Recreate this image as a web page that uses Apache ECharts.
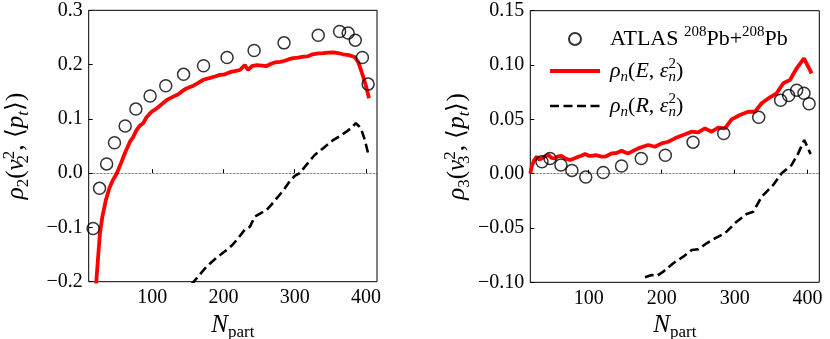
<!DOCTYPE html>
<html>
<head>
<meta charset="utf-8">
<script src="https://cdn.jsdelivr.net/npm/echarts@6/dist/echarts.min.js"></script>
<style>html,body{margin:0;padding:0;background:#fff;}#c{width:830px;height:339px;}</style>
</head>
<body>
<div id="c"></div>
<script>
// ---- data ----
const npartAtlas = [17, 26, 36, 47, 62, 77, 97, 119, 144, 172, 205, 243, 285, 333, 363, 375, 385, 395, 403];
const atlasRho2 = [-0.102, -0.028, 0.017, 0.056, 0.087, 0.118, 0.142, 0.161, 0.182, 0.198, 0.213, 0.226, 0.240, 0.254, 0.261, 0.258, 0.245, 0.213, 0.164];
const npartAtlas3 = [36, 47, 62, 77, 96, 120, 145, 172, 205, 243, 285, 333, 363, 374, 385, 395, 402];
const atlasRho3 = [0.011, 0.014, 0.008, 0.003, -0.003, 0.001, 0.007, 0.014, 0.017, 0.029, 0.037, 0.052, 0.0675, 0.072, 0.0767, 0.074, 0.0644];

const modelE_rho2 = [[19.5,-0.24],[22,-0.19],[24,-0.155],[26.6,-0.111],[30,-0.08],[35,-0.049],[40,-0.027],[45,-0.012],[50,-0.001],[56,0.018],[62,0.038],[68.7,0.058],[73,0.066],[78,0.0795],[83,0.088],[87.4,0.092],[92,0.103],[99,0.113],[107,0.12],[115,0.129],[122,0.136],[129.5,0.141],[136,0.145],[142,0.151],[148,0.156],[156,0.16],[164,0.166],[171.5,0.172],[180,0.175],[188,0.178],[195,0.181],[202,0.182],[209,0.186],[216,0.188],[223,0.19],[230,0.199],[234.6,0.19],[240,0.197],[247,0.199],[254,0.198],[260,0.197],[266,0.201],[272,0.204],[280,0.205],[286,0.207],[292,0.21],[298,0.212],[305,0.213],[312,0.2145],[318,0.215],[325,0.219],[333,0.2205],[340,0.221],[347,0.222],[354,0.2226],[361,0.221],[368,0.219],[376,0.2175],[384,0.214],[389,0.205],[393,0.19],[396,0.178],[399,0.165],[401.5,0.153],[404.3,0.138]];
const modelR_rho2 = [[155,-0.205],[176.3,-0.172],[190,-0.156],[204.4,-0.1416],[212,-0.133],[220.6,-0.12],[230,-0.104],[237,-0.099],[244,-0.08],[252,-0.074],[260.4,-0.068],[268,-0.057],[276.7,-0.0434],[285,-0.03],[292,-0.017],[300,-0.005],[307,0.0],[315,0.013],[328,0.0334],[340,0.046],[354,0.061],[363,0.068],[372.6,0.0764],[380,0.084],[385.7,0.092],[390,0.087],[393.7,0.0795],[398.4,0.061],[403,0.0365]];
const modelE_rho3 = [[20,0.0],[21.9,0.0064],[25,0.012],[28.8,0.0156],[32,0.013],[35.6,0.014],[40,0.016],[44.7,0.0172],[49,0.0145],[53.8,0.014],[58,0.016],[63,0.0163],[68,0.014],[74.4,0.0126],[80,0.014],[85.8,0.0156],[90,0.0165],[95,0.018],[100,0.0165],[104.1,0.0163],[110,0.017],[117.8,0.0156],[124,0.016],[131.5,0.0187],[138,0.019],[145.2,0.0211],[150,0.0195],[154.2,0.0187],[161,0.021],[167.9,0.0233],[175,0.025],[181.6,0.0264],[190.8,0.0248],[200,0.0279],[209,0.0294],[218.2,0.0325],[225,0.0345],[233,0.0365],[241,0.0386],[250,0.038],[259.3,0.0417],[268.5,0.0386],[277.5,0.0423],[286.7,0.0417],[295.9,0.05],[307.3,0.054],[318.6,0.057],[327.8,0.057],[337,0.0648],[348.4,0.0703],[357.5,0.074],[366.6,0.0832],[375.8,0.0862],[385,0.097],[395,0.1062],[405.5,0.0924]];
const modelR_rho3 = [[177.1,-0.0954],[186.3,-0.0933],[193.2,-0.0942],[202.2,-0.0902],[215.9,-0.0825],[229.6,-0.0764],[241.1,-0.0703],[250.1,-0.0696],[261.6,-0.0641],[273,-0.0595],[286.7,-0.0549],[302.7,-0.0442],[316.4,-0.0371],[325.5,-0.035],[337,-0.0212],[352.9,-0.0104],[364.4,0.0003],[378.1,0.008],[387.1,0.0187],[395.4,0.031],[404.1,0.018]];

const xTicks = [100, 200, 300, 400];
const leftYTicks = {min: -0.2, max: 0.3, interval: 0.1, digits: 1};
const rightYTicks = {min: -0.1, max: 0.15, interval: 0.05, digits: 2};

// ---- styles ----
const SERIF = 'Liberation Serif';
function makeRich(big, small) {
  const base = {fontFamily: SERIF, color: '#000'};
  return {
    i: Object.assign({fontStyle: 'italic', fontSize: big, lineHeight: big + 6}, base),
    r: Object.assign({fontSize: big, lineHeight: big + 6}, base),
    sub: Object.assign({fontStyle: 'italic', fontSize: small, lineHeight: small, verticalAlign: 'bottom'}, base),
    subr: Object.assign({fontSize: small, lineHeight: small, verticalAlign: 'bottom'}, base),
    subz: Object.assign({fontStyle: 'italic', fontSize: small, lineHeight: small, verticalAlign: 'bottom', width: 0.01}, base),
    subzr: Object.assign({fontSize: small, lineHeight: small, verticalAlign: 'bottom', width: 0.01}, base),
    sup: Object.assign({fontSize: small, lineHeight: small, verticalAlign: 'top'}, base),
    sp: Object.assign({fontSize: big, width: 5}, base)
  };
}
const richAxis = makeRich(25, 17);
const richLegend = makeRich(22, 15);

function fmt(d) {
  return v => v.toFixed(d).replace('-', '\u2212');
}
function xAxisCfg(gi, min, max) {
  return {
    type: 'value', gridIndex: gi, min: min, max: max,
    name: '{i|N}{subr|part}', nameLocation: 'middle', nameGap: 26,
    nameTextStyle: {rich: richAxis},
    axisLine: {show: false},
    splitLine: {show: false},
    axisTick: {inside: true, length: 4, customValues: xTicks, lineStyle: {color: '#000', width: 1}},
    axisLabel: {customValues: xTicks, color: '#000', fontFamily: SERIF, fontSize: 20, margin: 6}
  };
}
function yAxisCfg(gi, t, name) {
  return {
    type: 'value', gridIndex: gi, min: t.min, max: t.max, interval: t.interval,
    name: name, nameLocation: 'middle', nameGap: 57,
    nameTextStyle: {rich: richAxis},
    axisLine: {show: false},
    splitLine: {show: false},
    axisTick: {inside: true, length: 4, lineStyle: {color: '#000', width: 1}},
    axisLabel: {formatter: fmt(t.digits), color: '#000', fontFamily: SERIF, fontSize: 20, margin: 6}
  };
}
const zeroLine = {
  silent: true, symbol: 'none', label: {show: false},
  lineStyle: {type: 'dotted', color: '#000', width: 0.7},
  data: [{yAxis: 0}]
};
const circleStyle = {color: 'none', borderColor: '#000', borderWidth: 1.5};
const redStyle = {color: '#ff0000', width: 3.8};
const dashStyle = {color: '#000', width: 2.6, type: [9, 4.5]};
const hiddenSymbol = {color: 'rgba(0,0,0,0)', borderColor: 'rgba(0,0,0,0)', borderWidth: 0, opacity: 0};

const legendNames = {
  atlas: '{sp|}{r|ATLAS }{sup|208}{r|Pb+}{sup|208}{r|Pb}',
  modelE: '{sp|}{i|ρ}{sub|n}{r|(}{i|E}{r|, }{i|ε}{subz|n}{sup|2}{r|)}',
  modelR: '{sp|}{i|ρ}{sub|n}{r|(}{i|R}{r|, }{i|ε}{subz|n}{sup|2}{r|)}'
};

const gridBase = {show: true, borderColor: '#000', borderWidth: 1, backgroundColor: 'transparent', containLabel: false, outerBoundsMode: 'none'};

const chart = echarts.init(document.getElementById('c'), null, {renderer: 'canvas'});
chart.setOption({
  animation: false,
  backgroundColor: '#fff',
  grid: [
    Object.assign({left: 88.7, top: 10.3, width: 288.3, height: 271.4}, gridBase),
    Object.assign({left: 530.3, top: 10.7, width: 289, height: 271.6}, gridBase)
  ],
  xAxis: [xAxisCfg(0, 10.8, 415.5), xAxisCfg(1, 20, 416)],
  yAxis: [
    yAxisCfg(0, leftYTicks, '{i|ρ}{subr|2}{r|(}{i|v}{subzr|2}{sup|2}{r|, ⟨}{i|p}{sub|t}{r|⟩)}'),
    yAxisCfg(1, rightYTicks, '{i|ρ}{subr|3}{r|(}{i|v}{subzr|3}{sup|2}{r|, ⟨}{i|p}{sub|t}{r|⟩)}')
  ],
  legend: {
    left: 543, top: 20, orient: 'vertical', itemWidth: 50, itemHeight: 12, itemGap: 7,
    data: [
      {name: 'atlas'},
      {name: 'modelE', itemStyle: hiddenSymbol, lineStyle: {width: 4, color: '#ff0000'}},
      {name: 'modelR', itemStyle: hiddenSymbol, lineStyle: {width: 2.6, color: '#000', type: [9, 4.5]}}
    ],
    formatter: n => legendNames[n],
    textStyle: {rich: richLegend},
    selectedMode: false
  },
  series: [
    {name: 'modelE', type: 'line', xAxisIndex: 0, yAxisIndex: 0, data: modelE_rho2, showSymbol: false, symbol: 'none', lineStyle: redStyle, itemStyle: {color: '#ff0000'}, markLine: zeroLine, z: 2},
    {name: 'modelR', type: 'line', xAxisIndex: 0, yAxisIndex: 0, data: modelR_rho2, showSymbol: false, symbol: 'none', lineStyle: dashStyle, itemStyle: {color: '#000'}, z: 2},
    {name: 'atlas', type: 'scatter', xAxisIndex: 0, yAxisIndex: 0, data: npartAtlas.map((x, i) => [x, atlasRho2[i]]), symbol: 'circle', symbolSize: 12, itemStyle: circleStyle, z: 3},
    {name: 'modelE', type: 'line', xAxisIndex: 1, yAxisIndex: 1, data: modelE_rho3, showSymbol: false, symbol: 'none', lineStyle: redStyle, itemStyle: {color: '#ff0000'}, markLine: zeroLine, z: 2},
    {name: 'modelR', type: 'line', xAxisIndex: 1, yAxisIndex: 1, data: modelR_rho3, showSymbol: false, symbol: 'none', lineStyle: dashStyle, itemStyle: {color: '#000'}, z: 2},
    {name: 'atlas', type: 'scatter', xAxisIndex: 1, yAxisIndex: 1, data: npartAtlas3.map((x, i) => [x, atlasRho3[i]]), symbol: 'circle', symbolSize: 12, itemStyle: circleStyle, z: 3}
  ]
});
</script>
</body>
</html>
